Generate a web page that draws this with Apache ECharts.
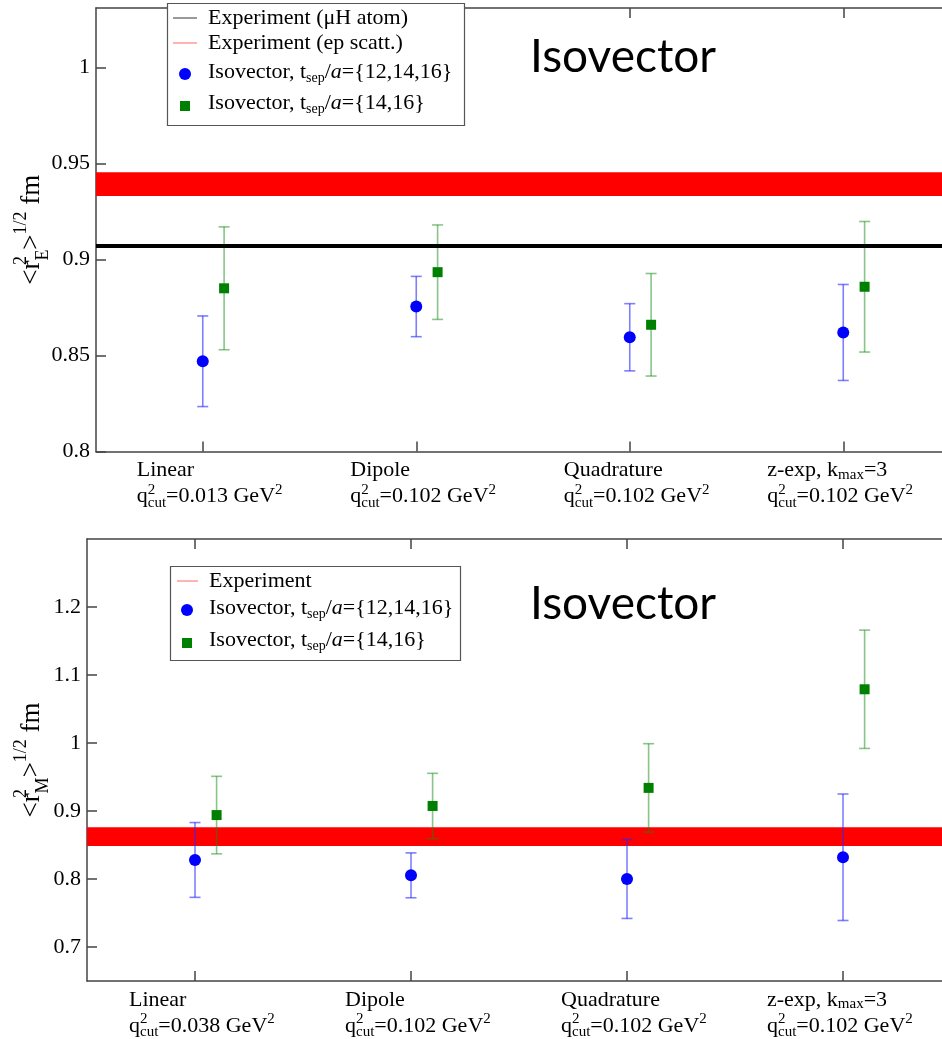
<!DOCTYPE html>
<html>
<head>
<meta charset="utf-8">
<script src="https://cdn.jsdelivr.net/npm/echarts@6/dist/echarts.min.js"></script>
<style>html,body{margin:0;padding:0;background:#fff;overflow:hidden}#c{width:942px;height:1039px}</style>
</head>
<body>
<div id="c"></div>
<script>
// ---- data ----
const fitNames = ['Linear', 'Dipole', 'Quadrature', 'z-exp'];
const fitKmax = [null, null, null, 3];
const qcutTop = ['0.013', '0.102', '0.102', '0.102'];
const qcutBottom = ['0.038', '0.102', '0.102', '0.102'];
const xPos = [1, 2, 3, 4];
const greenOffset = 0.1;

const yTicksTop = [0.8, 0.85, 0.9, 0.95, 1];
const yTicksBottom = [0.7, 0.8, 0.9, 1, 1.1, 1.2];

// Electric radius (top)
const topBlue = [0.847, 0.8755, 0.8595, 0.862];
const topBlueErr = [0.0236, 0.0157, 0.0175, 0.025];
const topGreen = [0.885, 0.8934, 0.866, 0.8858];
const topGreenErr = [0.032, 0.0246, 0.0267, 0.034];
const topMuH = 0.907;
const topEpBand = [0.9331, 0.9455];

// Magnetic radius (bottom)
const botBlue = [0.828, 0.8054, 0.800, 0.832];
const botBlueErr = [0.055, 0.033, 0.058, 0.093];
const botGreen = [0.894, 0.9074, 0.934, 1.079];
const botGreenErr = [0.057, 0.048, 0.065, 0.087];
const botExpBand = [0.8485, 0.876];

// ---- styling ----
const SERIF = 'Liberation Serif';
const AX = '#444';
const blueBar = 'rgba(40,40,255,0.6)';
const greenBar = 'rgba(20,140,20,0.5)';

function xLabel(qcuts) {
  return function (v) {
    const i = Math.round(v) - 1;
    if (i < 0 || i > 3) return '';
    const pad = fitKmax[i] == null;
    let l1 = pad ? '{ap|' + fitNames[i] + '}' : '{a|' + fitNames[i] + ', k}{sb|max}{a|=' + fitKmax[i] + '}';
    let l2 = (pad ? '{qp|q}' : '{q|q}') + '{st|2}{sb|cut}{q|=' + qcuts[i] + ' GeV}{sp|2}';
    return l1 + '\n' + l2;
  };
}
const xRich = {
  a: {fontSize: 22, fontFamily: SERIF, lineHeight: 24, align: 'left', color: '#000'},
  ap: {fontSize: 22, fontFamily: SERIF, lineHeight: 24, align: 'left', color: '#000', padding: [0, 0, 0, 10]},
  q: {fontSize: 22, fontFamily: SERIF, lineHeight: 28, align: 'left', color: '#000'},
  qp: {fontSize: 22, fontFamily: SERIF, lineHeight: 28, align: 'left', color: '#000', padding: [0, 0, 0, 10]},
  st: {fontSize: 15, fontFamily: SERIF, lineHeight: 14, verticalAlign: 'top', align: 'left', width: 0, color: '#000'},
  sp: {fontSize: 15, fontFamily: SERIF, lineHeight: 14, verticalAlign: 'top', align: 'left', color: '#000'},
  sb: {fontSize: 15, fontFamily: SERIF, lineHeight: 14, verticalAlign: 'bottom', align: 'left', color: '#000'}
};
const nameRich = {
  m: {fontSize: 27, fontFamily: SERIF, lineHeight: 40, color: '#000'},
  st: {fontSize: 18, fontFamily: SERIF, lineHeight: 18, verticalAlign: 'top', width: 0, align: 'left', color: '#000'},
  sp: {fontSize: 18, fontFamily: SERIF, lineHeight: 18, verticalAlign: 'top', color: '#000'},
  sb: {fontSize: 18, fontFamily: SERIF, lineHeight: 18, verticalAlign: 'bottom', color: '#000'}
};
const tickStyle = {color: AX, width: 1.5};
const lineStyle = {color: AX, width: 1.5};

function xAxes(grid, qcuts, xMax) {
  return [
    {gridIndex: grid, type: 'value', min: 0.5, max: xMax, position: 'bottom',
     axisLine: {show: true, lineStyle: lineStyle}, splitLine: {show: false},
     axisTick: {customValues: xPos, inside: true, length: 10, lineStyle: tickStyle},
     axisLabel: {customValues: xPos, formatter: xLabel(qcuts), margin: 7, width: 152, align: 'center', overflow: 'none', rich: xRich}},
    {gridIndex: grid, type: 'value', min: 0.5, max: xMax, position: 'top',
     axisLine: {show: true, lineStyle: lineStyle}, splitLine: {show: false},
     axisTick: {customValues: xPos, inside: true, length: 10, lineStyle: tickStyle},
     axisLabel: {show: false}}
  ];
}
function yAxis(grid, min, max, ticks, sub, gap) {
  return {gridIndex: grid, type: 'value', min: min, max: max,
    axisLine: {show: true, lineStyle: lineStyle}, splitLine: {show: false},
    axisTick: {customValues: ticks, inside: true, length: 10, lineStyle: tickStyle},
    axisLabel: {customValues: ticks, margin: 6, fontSize: 22, fontFamily: SERIF, color: '#000'},
    name: '{m|<r}{st|2}{sb|' + sub + '}{m|>}{sp|1/2}{m| fm}', nameLocation: 'middle', nameGap: gap,
    nameMoveOverlap: false,
    nameTextStyle: {rich: nameRich}};
}

function errSeries(xi, yi, vals, errs, off, color) {
  return {
    type: 'custom', xAxisIndex: xi, yAxisIndex: yi, z: 3, silent: true, clip: false,
    data: vals.map((v, i) => [xPos[i] + off, v, errs[i]]),
    encode: {x: 0, y: 1},
    renderItem: function (params, api) {
      const x = api.value(0), y = api.value(1), e = api.value(2);
      const lo = api.coord([x, y - e]), hi = api.coord([x, y + e]);
      const hw = 5.5;
      const st = {stroke: color, lineWidth: 1.6, fill: null};
      return {type: 'group', children: [
        {type: 'line', shape: {x1: lo[0], y1: lo[1], x2: hi[0], y2: hi[1]}, style: st},
        {type: 'line', shape: {x1: lo[0] - hw, y1: lo[1], x2: lo[0] + hw, y2: lo[1]}, style: st},
        {type: 'line', shape: {x1: hi[0] - hw, y1: hi[1], x2: hi[0] + hw, y2: hi[1]}, style: st}
      ]};
    }
  };
}
function ptSeries(xi, yi, vals, off, symbol, size, color) {
  return {type: 'scatter', xAxisIndex: xi, yAxisIndex: yi, z: 4, silent: true,
    symbol: symbol, symbolSize: size,
    itemStyle: {color: color, opacity: 1},
    data: vals.map((v, i) => [xPos[i] + off, v])};
}

const series = [
  {type: 'line', xAxisIndex: 0, yAxisIndex: 0, data: [], z: 1, silent: true,
   markArea: {silent: true, itemStyle: {color: '#ff0000', opacity: 1}, data: [[{yAxis: topEpBand[0]}, {yAxis: topEpBand[1]}]]},
   markLine: {silent: true, precision: 5, symbol: ['none', 'none'], label: {show: false},
     lineStyle: {color: '#000', width: 4, type: 'solid', opacity: 1}, data: [{yAxis: topMuH}]}},
  errSeries(0, 0, topBlue, topBlueErr, 0, blueBar),
  errSeries(0, 0, topGreen, topGreenErr, greenOffset, greenBar),
  ptSeries(0, 0, topBlue, 0, 'circle', 12, '#0000ff'),
  ptSeries(0, 0, topGreen, greenOffset, 'rect', 10, '#008000'),
  {type: 'line', xAxisIndex: 2, yAxisIndex: 1, data: [], z: 1, silent: true,
   markArea: {silent: true, itemStyle: {color: '#ff0000', opacity: 1}, data: [[{yAxis: botExpBand[0]}, {yAxis: botExpBand[1]}]]}},
  errSeries(2, 1, botBlue, botBlueErr, 0, blueBar),
  errSeries(2, 1, botGreen, botGreenErr, greenOffset, greenBar),
  ptSeries(2, 1, botBlue, 0, 'circle', 12, '#0000ff'),
  ptSeries(2, 1, botGreen, greenOffset, 'rect', 10, '#008000')
];

// legends drawn as graphics
function legendText(x, y, rich) {
  return {type: 'text', x: x, y: y, z: 101,
    style: {text: rich, font: '22px "' + SERIF + '"', fill: '#000', textVerticalAlign: 'middle', textAlign: 'left',
      rich: {
        sb: {fontSize: 14, fontFamily: SERIF, verticalAlign: 'bottom', lineHeight: 14},
        it: {fontSize: 22, fontFamily: SERIF, fontStyle: 'italic', lineHeight: 26},
        n: {fontSize: 22, fontFamily: SERIF, lineHeight: 26}
      }}};
}
const isoText1 = '{n|Isovector, t}{sb|sep}{n|/}{it|a}={12,14,16}';
const isoText2 = '{n|Isovector, t}{sb|sep}{n|/}{it|a}={14,16}';

const graphics = [
  // top legend
  {type: 'rect', shape: {x: 167.5, y: 3.5, width: 297, height: 122}, style: {fill: '#fff', stroke: '#555', lineWidth: 1.2}, z: 100},
  {type: 'line', shape: {x1: 173, y1: 18, x2: 197, y2: 18}, style: {stroke: '#555', lineWidth: 1.2}, z: 101},
  legendText(208, 18, 'Experiment (μH atom)'),
  {type: 'line', shape: {x1: 173, y1: 43, x2: 197, y2: 43}, style: {stroke: '#ff8080', lineWidth: 1.2}, z: 101},
  legendText(208, 43, 'Experiment (ep scatt.)'),
  {type: 'circle', shape: {cx: 185, cy: 74, r: 6}, style: {fill: '#0000ff'}, z: 101},
  legendText(208, 72, isoText1),
  {type: 'rect', shape: {x: 180, y: 101, width: 10, height: 10}, style: {fill: '#008000'}, z: 101},
  legendText(208, 103, isoText2),
  // bottom legend
  {type: 'rect', shape: {x: 170.5, y: 566.5, width: 290, height: 94}, style: {fill: '#fff', stroke: '#555', lineWidth: 1.2}, z: 100},
  {type: 'line', shape: {x1: 177, y1: 581, x2: 198, y2: 581}, style: {stroke: '#ff8080', lineWidth: 1.2}, z: 101},
  legendText(209, 581, 'Experiment'),
  {type: 'circle', shape: {cx: 187, cy: 610, r: 6}, style: {fill: '#0000ff'}, z: 101},
  legendText(209, 608, isoText1),
  {type: 'rect', shape: {x: 182, y: 638, width: 10, height: 10}, style: {fill: '#008000'}, z: 101},
  legendText(209, 640, isoText2),
  // titles
  {type: 'text', x: 530, y: 57, z: 101, style: {text: 'Isovector', font: '46px Lato', fill: '#000', textVerticalAlign: 'middle'}},
  {type: 'text', x: 530, y: 604, z: 101, style: {text: 'Isovector', font: '46px Lato', fill: '#000', textVerticalAlign: 'middle'}}
];

// plot areas end at the page edge; the x range is cut there as in the reference
const topW = 846, botW = 855;
const topXMax = 0.5 + topW / 213.5;
const botXMax = 0.5 + botW / 216;

const chart = echarts.init(document.getElementById('c'), null, {renderer: 'canvas'});
chart.setOption({
  animation: false,
  backgroundColor: '#fff',
  grid: [
    {left: 96, width: topW, top: 8, height: 443.5, outerBoundsMode: 'none', containLabel: false, show: false},
    {left: 87, width: botW, top: 539, height: 442, outerBoundsMode: 'none', containLabel: false, show: false}
  ],
  xAxis: xAxes(0, qcutTop, topXMax).concat(xAxes(1, qcutBottom, botXMax)),
  yAxis: [
    yAxis(0, 0.8, 0.8 + 443.5 / 1920, yTicksTop, 'E', 44),
    yAxis(1, 0.65, 1.3, yTicksBottom, 'M', 35)
  ],
  series: series,
  graphic: graphics
});
</script>
</body>
</html>
